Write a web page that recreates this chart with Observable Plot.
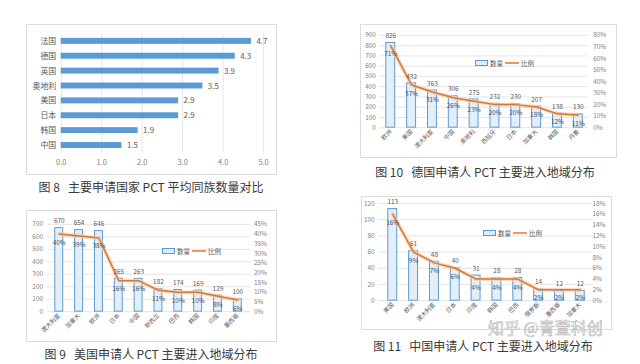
<!DOCTYPE html>
<html><head><meta charset="utf-8">
<script src="https://cdn.jsdelivr.net/npm/d3@7"></script>
<script src="https://cdn.jsdelivr.net/npm/@observablehq/plot@0.6"></script>
<style>
html,body{margin:0;padding:0;background:#fff;}
#root{position:relative;width:640px;height:364px;overflow:hidden;background:#fff;font-family:"Noto Sans CJK SC",sans-serif;}
.panel{position:absolute;border:1px solid #dcdcdc;box-sizing:border-box;background:#fff;}
.panel svg{position:absolute;left:-1px;top:-1px;}
.cap{position:absolute;font-size:12px;color:#3a3a3a;white-space:pre;transform:translate(-50%,-50%);line-height:1;}
.legend{position:absolute;font-size:6.5px;color:#595959;display:flex;align-items:center;white-space:nowrap;transform:translateY(-50%);}
.wm{position:absolute;font-size:16px;line-height:1;color:#fff;-webkit-text-stroke:0.6px #b0b0b0;white-space:pre;opacity:0.95;}
</style></head>
<body><div id="root"></div>
<script>
// ---------- Data ----------
const countries8 = ["法国","德国","英国","奥地利","美国","日本","韩国","中国"];
const family8 = [4.7, 4.3, 3.9, 3.5, 2.9, 2.9, 1.9, 1.5];
const ticks8 = [0, 1, 2, 3, 4, 5];

const regions10 = ["欧洲","美国","澳大利亚","中国","奥地利","西班牙","日本","加拿大","韩国","丹麦"];
const counts10 = [826, 432, 363, 306, 275, 232, 230, 207, 138, 130];
const ratios10 = [71, 37, 31, 26, 23, 20, 20, 18, 12, 11];
const leftTicks10 = [0,100,200,300,400,500,600,700,800,900];
const rightTicks10 = [0,10,20,30,40,50,60,70,80];

const regions9 = ["澳大利亚","加拿大","欧洲","日本","中国","新西兰","巴西","韩国","印度","墨西哥"];
const counts9 = [670, 654, 646, 265, 263, 182, 174, 169, 129, 100];
const ratios9 = [40, 39, 38, 16, 16, 11, 10, 10, 8, 6];
const leftTicks9 = [0,100,200,300,400,500,600,700];
const rightTicks9 = [0,5,10,15,20,25,30,35,40,45];

const regions11 = ["美国","欧洲","澳大利亚","日本","印度","韩国","巴西","俄罗斯","墨西哥","加拿大"];
const counts11 = [113, 61, 48, 40, 31, 28, 28, 14, 12, 12];
const ratios11 = [16, 9, 7, 6, 4, 4, 4, 2, 2, 2];
const leftTicks11 = [0,20,40,60,80,100,120];
const rightTicks11 = [0,2,4,6,8,10,12,14,16,18];

const legendLabels = ["数量","比例"];
const captions = {
  c8: "图 8   主要申请国家 PCT 平均同族数量对比",
  c9: "图 9   美国申请人 PCT 主要进入地域分布",
  c10: "图 10   德国申请人 PCT 主要进入地域分布",
  c11: "图 11   中国申请人 PCT 主要进入地域分布"
};
const watermark = "知乎 @青萱科创";

// ---------- Helpers ----------
const root = document.getElementById("root");
const FONT = "'Noto Sans CJK SC', sans-serif";

function panel(left, top, w, h) {
  const d = document.createElement("div");
  d.className = "panel";
  Object.assign(d.style, {left: left+"px", top: top+"px", width: w+"px", height: h+"px"});
  root.appendChild(d);
  return d;
}
function caption(text, cx, cy) {
  const d = document.createElement("div");
  d.className = "cap";
  d.textContent = text;
  d.style.left = cx + "px"; d.style.top = cy + "px";
  root.appendChild(d);
}
function legend(x, y) {
  const d = document.createElement("div");
  d.className = "legend";
  d.style.left = x + "px"; d.style.top = y + "px";
  d.innerHTML =
    `<svg width="13" height="6" style="margin-right:2px"><rect x="0.5" y="0.5" width="12" height="5" fill="#deebf7" stroke="#5b9bd5" stroke-width="1"/></svg>` +
    `<span>${legendLabels[0]}</span>` +
    `<svg width="14" height="6" style="margin:0 2px"><line x1="0" x2="14" y1="3" y2="3" stroke="#ed7d31" stroke-width="1.6"/></svg>` +
    `<span>${legendLabels[1]}</span>`;
  root.appendChild(d);
}

function combo({cats, counts, ratios, leftTicks, rightTicks, w, h, ml, mr, mt, mb, rpad}) {
  const yMax = leftTicks[leftTicks.length - 1];
  const rMax = rightTicks[rightTicks.length - 1];
  const k = yMax / rMax;
  const data = cats.map((c, i) => ({cat: c, n: counts[i], r: ratios[i], rv: ratios[i] * k}));
  return Plot.plot({
    width: w, height: h,
    marginLeft: ml, marginRight: mr, marginTop: mt, marginBottom: mb,
    style: {fontFamily: FONT, fontSize: "6.5px", color: "#7f7f7f", background: "transparent", overflow: "visible"},
    x: {domain: cats, paddingInner: 0.58, paddingOuter: 0.29, axis: null},
    y: {domain: [0, yMax], axis: null},
    marks: [
      Plot.ruleY(leftTicks, {stroke: "#dedede", strokeWidth: 0.8}),
      Plot.barY(data, {x: "cat", y: "n", fill: "#e3eef9", stroke: "#5b9bd5", strokeWidth: 1}),
      Plot.lineY(data, {x: "cat", y: "rv", stroke: "#f8cbad", strokeWidth: 4, strokeOpacity: 0.7}),
      Plot.lineY(data, {x: "cat", y: "rv", stroke: "#d9772f", strokeWidth: 1.5}),
      Plot.text(data, {x: "cat", y: "n", text: d => String(d.n), dy: -7, fill: "#595959", fontSize: 6.5}),
      Plot.text(data, {x: "cat", y: "rv", text: d => d.r + "%", dy: 8.5, fill: "#44546a", fontSize: 6.5}),
      Plot.axisY({ticks: leftTicks, anchor: "left", tickSize: 0, tickPadding: 4, label: null, fill: "#7f7f7f"}),
      Plot.axisY({ticks: rightTicks.map(t => t * k), anchor: "right", tickSize: 0, tickPadding: rpad, label: null,
        tickFormat: v => Math.round(v / k) + "%", fill: "#7f7f7f"}),
      Plot.axisX({anchor: "bottom", tickSize: 0, tickPadding: 3, tickRotate: -45, label: null, fill: "#595959", fontSize: 6})
    ]
  });
}

// ---------- Figure 8 ----------
{
  const p = panel(26, 24, 251, 151);
  const data8 = countries8.map((c, i) => ({c, v: family8[i]}));
  const svg = Plot.plot({
    width: 251, height: 151,
    marginLeft: 35, marginRight: 12, marginTop: 9.5, marginBottom: 21.5,
    style: {fontFamily: FONT, fontSize: "7.5px", color: "#595959", background: "transparent", overflow: "visible"},
    x: {domain: [0, 5], axis: null},
    y: {domain: countries8, paddingInner: 0.6, paddingOuter: 0.3, axis: null},
    marks: [
      Plot.ruleX(ticks8, {stroke: "#dedede", strokeWidth: 0.8}),
      Plot.barX(data8, {y: "c", x: "v", fill: "#5b9bd5"}),
      Plot.text(data8, {y: "c", x: "v", text: d => d.v.toFixed(1), textAnchor: "start", dx: 5, fill: "#595959", fontSize: 8}),
      Plot.axisX({ticks: ticks8, anchor: "bottom", tickSize: 0, tickPadding: 7, label: null, tickFormat: d => d.toFixed(1), fill: "#7f7f7f"}),
      Plot.axisY({anchor: "left", tickSize: 0, tickPadding: 5, label: null, fill: "#595959", fontSize: 8})
    ]
  });
  p.appendChild(svg);
  caption(captions.c8, 151, 187);
}

// ---------- Figure 10 ----------
{
  const p = panel(360, 24, 257, 134);
  p.appendChild(combo({cats: regions10, counts: counts10, ratios: ratios10, leftTicks: leftTicks10, rightTicks: rightTicks10,
    w: 257, h: 134, ml: 19.5, mr: 27.5, mt: 11, mb: 30, rpad: 5}));
  legend(475, 63);
  caption(captions.c10, 485, 172);
}

// ---------- Figure 9 ----------
{
  const p = panel(26, 210, 251, 132);
  p.appendChild(combo({cats: regions9, counts: counts9, ratios: ratios9, leftTicks: leftTicks9, rightTicks: rightTicks9,
    w: 251, h: 132, ml: 20.7, mr: 24.7, mt: 14, mb: 30, rpad: 3}));
  legend(162, 251);
  caption(captions.c9, 151, 354);
}

// ---------- Figure 11 ----------
{
  const p = panel(361, 196, 251, 134);
  p.appendChild(combo({cats: regions11, counts: counts11, ratios: ratios11, leftTicks: leftTicks11, rightTicks: rightTicks11,
    w: 251, h: 134, ml: 17.2, mr: 17.2, mt: 7, mb: 29, rpad: -1}));
  legend(483, 233);
  caption(captions.c11, 483, 346);
}

// watermark
{
  const d = document.createElement("div");
  d.className = "wm";
  d.textContent = watermark;
  d.style.left = "488px"; d.style.top = "319px";
  root.appendChild(d);
}
</script>
</body></html>
